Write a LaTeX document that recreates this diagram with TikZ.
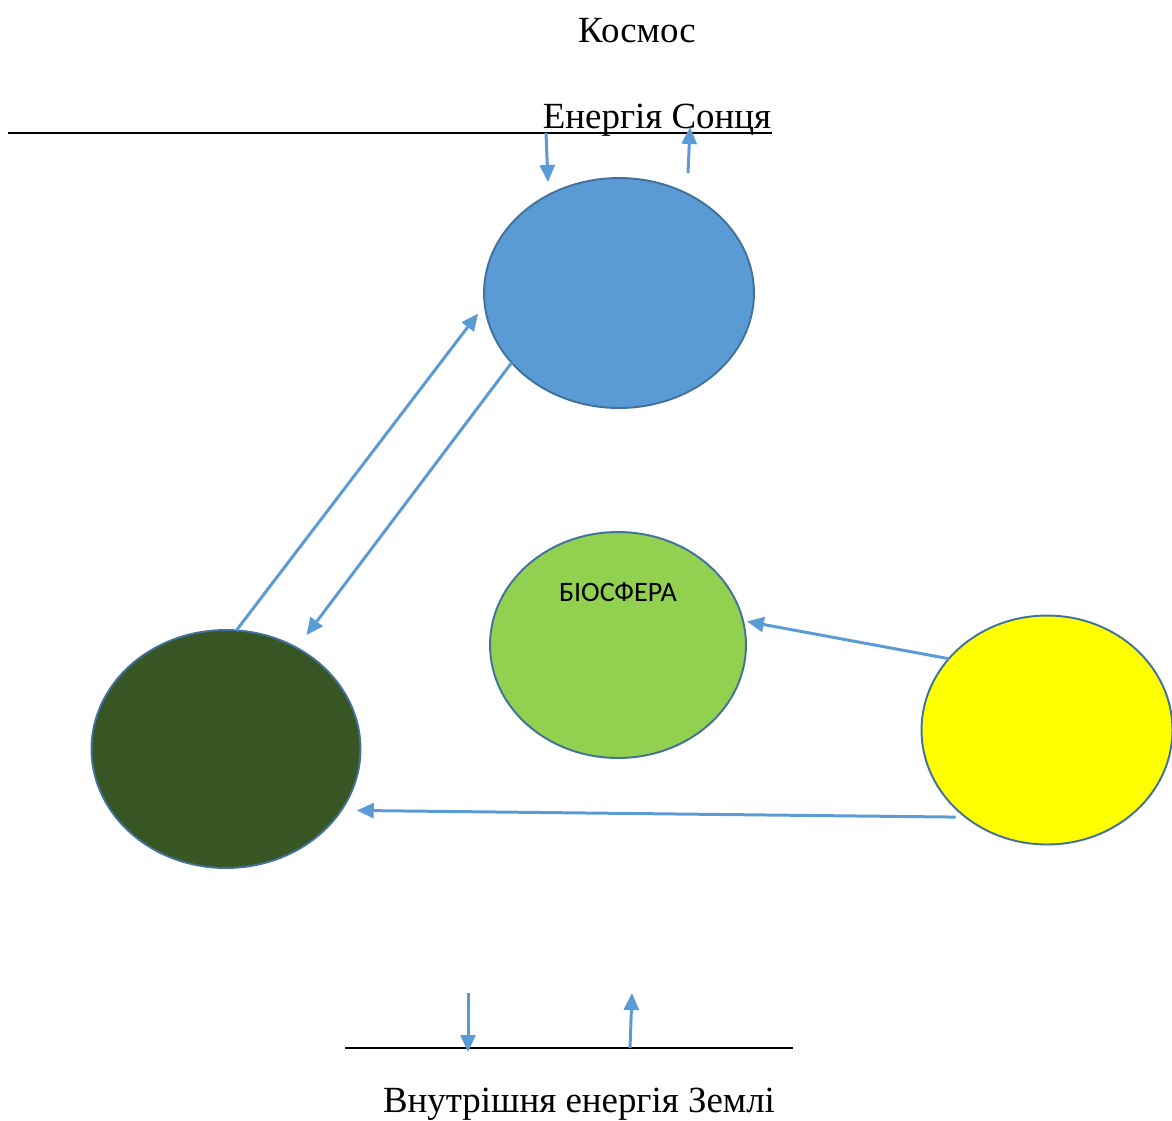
\documentclass[tikz,border=0pt]{standalone}
\usepackage{fontspec}
\setmainfont{Liberation Serif}
\newfontfamily\calibri{Carlito}
\usetikzlibrary{arrows.meta,shapes.geometric}

\definecolor{skyblue}{HTML}{5B9BD5}
\definecolor{sphereedge}{HTML}{41719C}
\definecolor{biogreen}{HTML}{92D050}
\definecolor{rockgreen}{HTML}{375623}
\definecolor{sunyellow}{HTML}{FFFF00}
\definecolor{flowblue}{HTML}{5B9BD5}

\begin{document}
\begin{tikzpicture}[x=0.02cm, y=-0.02cm,
  sphere/.style={ellipse, draw=sphereedge, line width=1.1pt, inner sep=0pt, outer sep=0pt},
  flow/.style={draw=flowblue, line width=1.7pt, -{Triangle[length=0.34cm,width=0.3cm]}},
  caption/.style={font=\fontsize{21}{25}\selectfont, anchor=base, inner sep=0pt}]
\useasboundingbox (0,0) rectangle (1172,1120);

% texts
\node[caption] (space) at (637,42) {Космос};
\node[caption] (sun) at (657,128) {Енергія Сонця};
\node[caption] (inner) at (579,1112) {Внутрішня енергія Землі};

% lines
\draw[line width=1.1pt] (8,133) -- (772,133);
\draw[line width=1.1pt] (345,1048) -- (793,1048);

% spheres
\node[sphere, fill=skyblue, minimum width=5.4cm, minimum height=4.6cm] (air) at (619,293) {};
\node[sphere, fill=biogreen, minimum width=5.12cm, minimum height=4.52cm] (bio) at (618,645) {};
\node[font=\calibri\fontsize{16}{19}\selectfont, inner sep=0pt] (biotext) at (618,592) {БІОСФЕРА};
\node[sphere, fill=rockgreen, minimum width=5.38cm, minimum height=4.76cm] (rock) at (226,749) {};
\node[sphere, fill=sunyellow, minimum width=5.02cm, minimum height=4.58cm] (water) at (1047,730) {};

% free ends
\coordinate (sunin) at (546,133);
\coordinate (sunintip) at (548,182);
\coordinate (sunout) at (688,173);
\coordinate (sunouttip) at (690,127);
\coordinate (earthin) at (468,993);
\coordinate (earthintip) at (468,1052);
\coordinate (earthout) at (630,1048);
\coordinate (earthouttip) at (632,993);

% arrows
\draw[flow] (sunin) -- (sunintip);
\draw[flow] (sunout) -- (sunouttip);
\draw[flow] (earthin) -- (earthintip);
\draw[flow] (earthout) -- (earthouttip);
\draw[flow, shorten >=0.22cm] (rock.85) -- (air.185);
\draw[flow, shorten >=0.32cm] (air.213) -- (rock.55);
\draw[flow, shorten >=0.08cm] (water.144) -- (bio.11);
\draw[flow, shorten <=0.2cm, shorten >=0.31cm] (water.227) -- (rock.332);
\end{tikzpicture}
\end{document}
